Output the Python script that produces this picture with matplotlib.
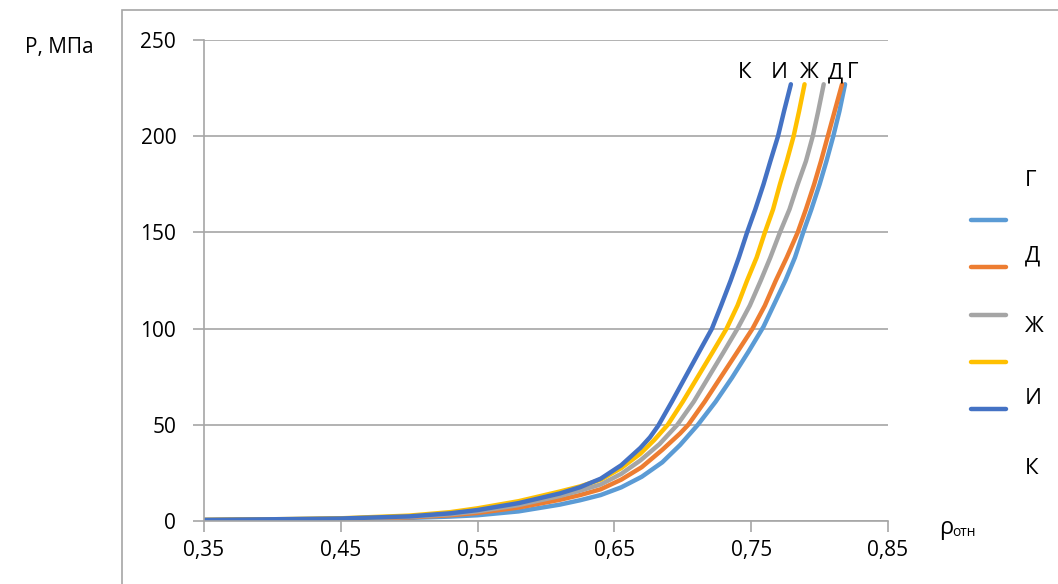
import matplotlib
matplotlib.use("Agg")
from matplotlib import pyplot as plt
from matplotlib.lines import Line2D
from matplotlib.patches import Rectangle

# относительная плотность и давление прессования для каждой смеси
rho_G = [0.35, 0.40, 0.45, 0.50, 0.53, 0.55, 0.58, 0.61, 0.625, 0.64, 0.655, 0.67, 0.685, 0.698, 0.711,
         0.724, 0.736, 0.748, 0.759, 0.767, 0.775, 0.782, 0.788, 0.794, 0.800, 0.805, 0.810, 0.8145, 0.8186]
p_G = [0.3, 0.6, 1.0, 1.6, 2.3, 3.0, 5.0, 8.5, 10.8, 13.5, 17.5, 23, 30.5, 39.5, 50,
       62, 74.5, 88, 101, 113, 125, 137, 150, 162, 175, 187, 200, 213, 227]

rho_D = [0.35, 0.40, 0.45, 0.50, 0.53, 0.55, 0.58, 0.61, 0.625, 0.64, 0.655, 0.67, 0.685, 0.698, 0.704,
         0.716, 0.728, 0.740, 0.751, 0.760, 0.768, 0.776, 0.784, 0.790, 0.796, 0.801, 0.806, 0.811, 0.8164]
p_D = [0.4, 0.7, 1.1, 1.9, 3.0, 4.2, 7.0, 11.0, 13.5, 16.5, 21.5, 28, 37, 45.5, 50,
       62, 75, 88, 100, 112, 125, 137, 150, 162, 175, 187, 200, 213, 227]

rho_Zh = [0.35, 0.40, 0.45, 0.50, 0.53, 0.55, 0.58, 0.61, 0.625, 0.64, 0.655, 0.669, 0.683, 0.696,
          0.708, 0.719, 0.730, 0.740, 0.749, 0.757, 0.764, 0.771, 0.778, 0.784, 0.790, 0.795, 0.799, 0.803]
p_Zh = [0.5, 0.8, 1.2, 2.2, 3.5, 5.0, 8.3, 13.0, 15.8, 19.0, 24.5, 31.5, 40, 50,
        62, 75, 88, 100, 112, 125, 137, 150, 162, 175, 187, 200, 213, 227]

rho_I = [0.35, 0.40, 0.45, 0.50, 0.53, 0.55, 0.58, 0.61, 0.625, 0.64, 0.655, 0.669, 0.679, 0.689,
         0.700, 0.711, 0.722, 0.732, 0.740, 0.747, 0.754, 0.760, 0.766, 0.771, 0.776, 0.781, 0.785, 0.789]
p_I = [0.6, 0.9, 1.4, 2.8, 4.6, 6.6, 10.3, 15.3, 18.0, 21.5, 27.5, 35, 42, 50,
       62, 75, 88, 100, 112, 125, 137, 150, 162, 175, 187, 200, 213, 227]

rho_K = [0.35, 0.40, 0.45, 0.50, 0.53, 0.55, 0.58, 0.61, 0.625, 0.64, 0.655, 0.669, 0.676, 0.682,
         0.692, 0.702, 0.712, 0.7213, 0.728, 0.735, 0.741, 0.747, 0.753, 0.759, 0.764, 0.7696, 0.774, 0.779]
p_K = [0.6, 0.9, 1.3, 2.4, 4.0, 5.7, 9.3, 14.3, 17.6, 22.0, 29.0, 38.0, 43.5, 49.5,
       62, 75, 88, 100, 112, 125, 137, 150, 162, 175, 187, 200, 213, 227]

names = ['Г', 'Д', 'Ж', 'И', 'К']
colors = ['#5B9BD5', '#ED7D31', '#A5A5A5', '#FFC000', '#4472C4']
series = [(rho_G, p_G), (rho_D, p_D), (rho_Zh, p_Zh), (rho_I, p_I), (rho_K, p_K)]

x_ticks = [0.35, 0.45, 0.55, 0.65, 0.75, 0.85]
y_ticks = [0, 50, 100, 150, 200, 250]

plt.rcParams['font.family'] = ['Open Sans', 'DejaVu Sans']
grey = '#A6A6A6'

fig = plt.figure(figsize=(10.58, 5.84), dpi=100)
fig.patches.append(Rectangle((122/1058, -0.1), 2, (584-10)/584 + 0.1, transform=fig.transFigure,
                             fill=False, edgecolor=grey, lw=1.2))

ax = fig.add_axes([204/1058, 63/584, 684/1058, 481/584])
for (x, y), c in zip(series, colors):
    ax.plot(x, y, color=c, lw=3.2, solid_capstyle='round', solid_joinstyle='round')

ax.set_xlim(0.35, 0.85)
ax.set_ylim(0, 250)
ax.set_xticks(x_ticks)
ax.set_yticks(y_ticks)
ax.set_xticklabels([('%.2f' % v).replace('.', ',') for v in x_ticks])
ax.yaxis.grid(True, color=grey, lw=1.2)
ax.set_axisbelow(True)
for s in ['top', 'right']:
    ax.spines[s].set_visible(False)
for s in ['left', 'bottom']:
    ax.spines[s].set_color(grey)
    ax.spines[s].set_linewidth(1.2)
ax.tick_params(axis='both', colors=grey, labelcolor='black', labelsize=15, length=8, width=1.2)
ax.tick_params(axis='y', pad=12)
ax.tick_params(axis='x', pad=6)

# подписи кривых над концами
top_x = [0.8245, 0.8115, 0.7925, 0.7705, 0.7455]
for n, tx in zip(names, top_x):
    ax.text(tx, 233, n, ha='center', va='center', fontsize=16, clip_on=False)

fig.text(25/1058, 1 - 48/584, 'P, МПа', fontsize=15, va='center', ha='left')
fig.text(939/1058, 1 - 528/584, 'ρ', fontsize=17, va='center', ha='left')
fig.text(952/1058, 1 - 533/584, 'отн', fontsize=10, va='center', ha='left')

# легенда
line_y = [220, 267, 315, 362, 409]
label_y = [180, 256, 327, 398, 468]
for c, ly in zip(colors, line_y):
    fig.lines.append(Line2D([971/1058, 1006/1058], [1 - ly/584, 1 - ly/584],
                            transform=fig.transFigure, color=c, lw=3.2, solid_capstyle='round'))
for n, ty in zip(names, label_y):
    fig.text(1025/1058, 1 - ty/584, n, fontsize=16, va='center', ha='left')

fig.savefig('out.png', dpi=100)
